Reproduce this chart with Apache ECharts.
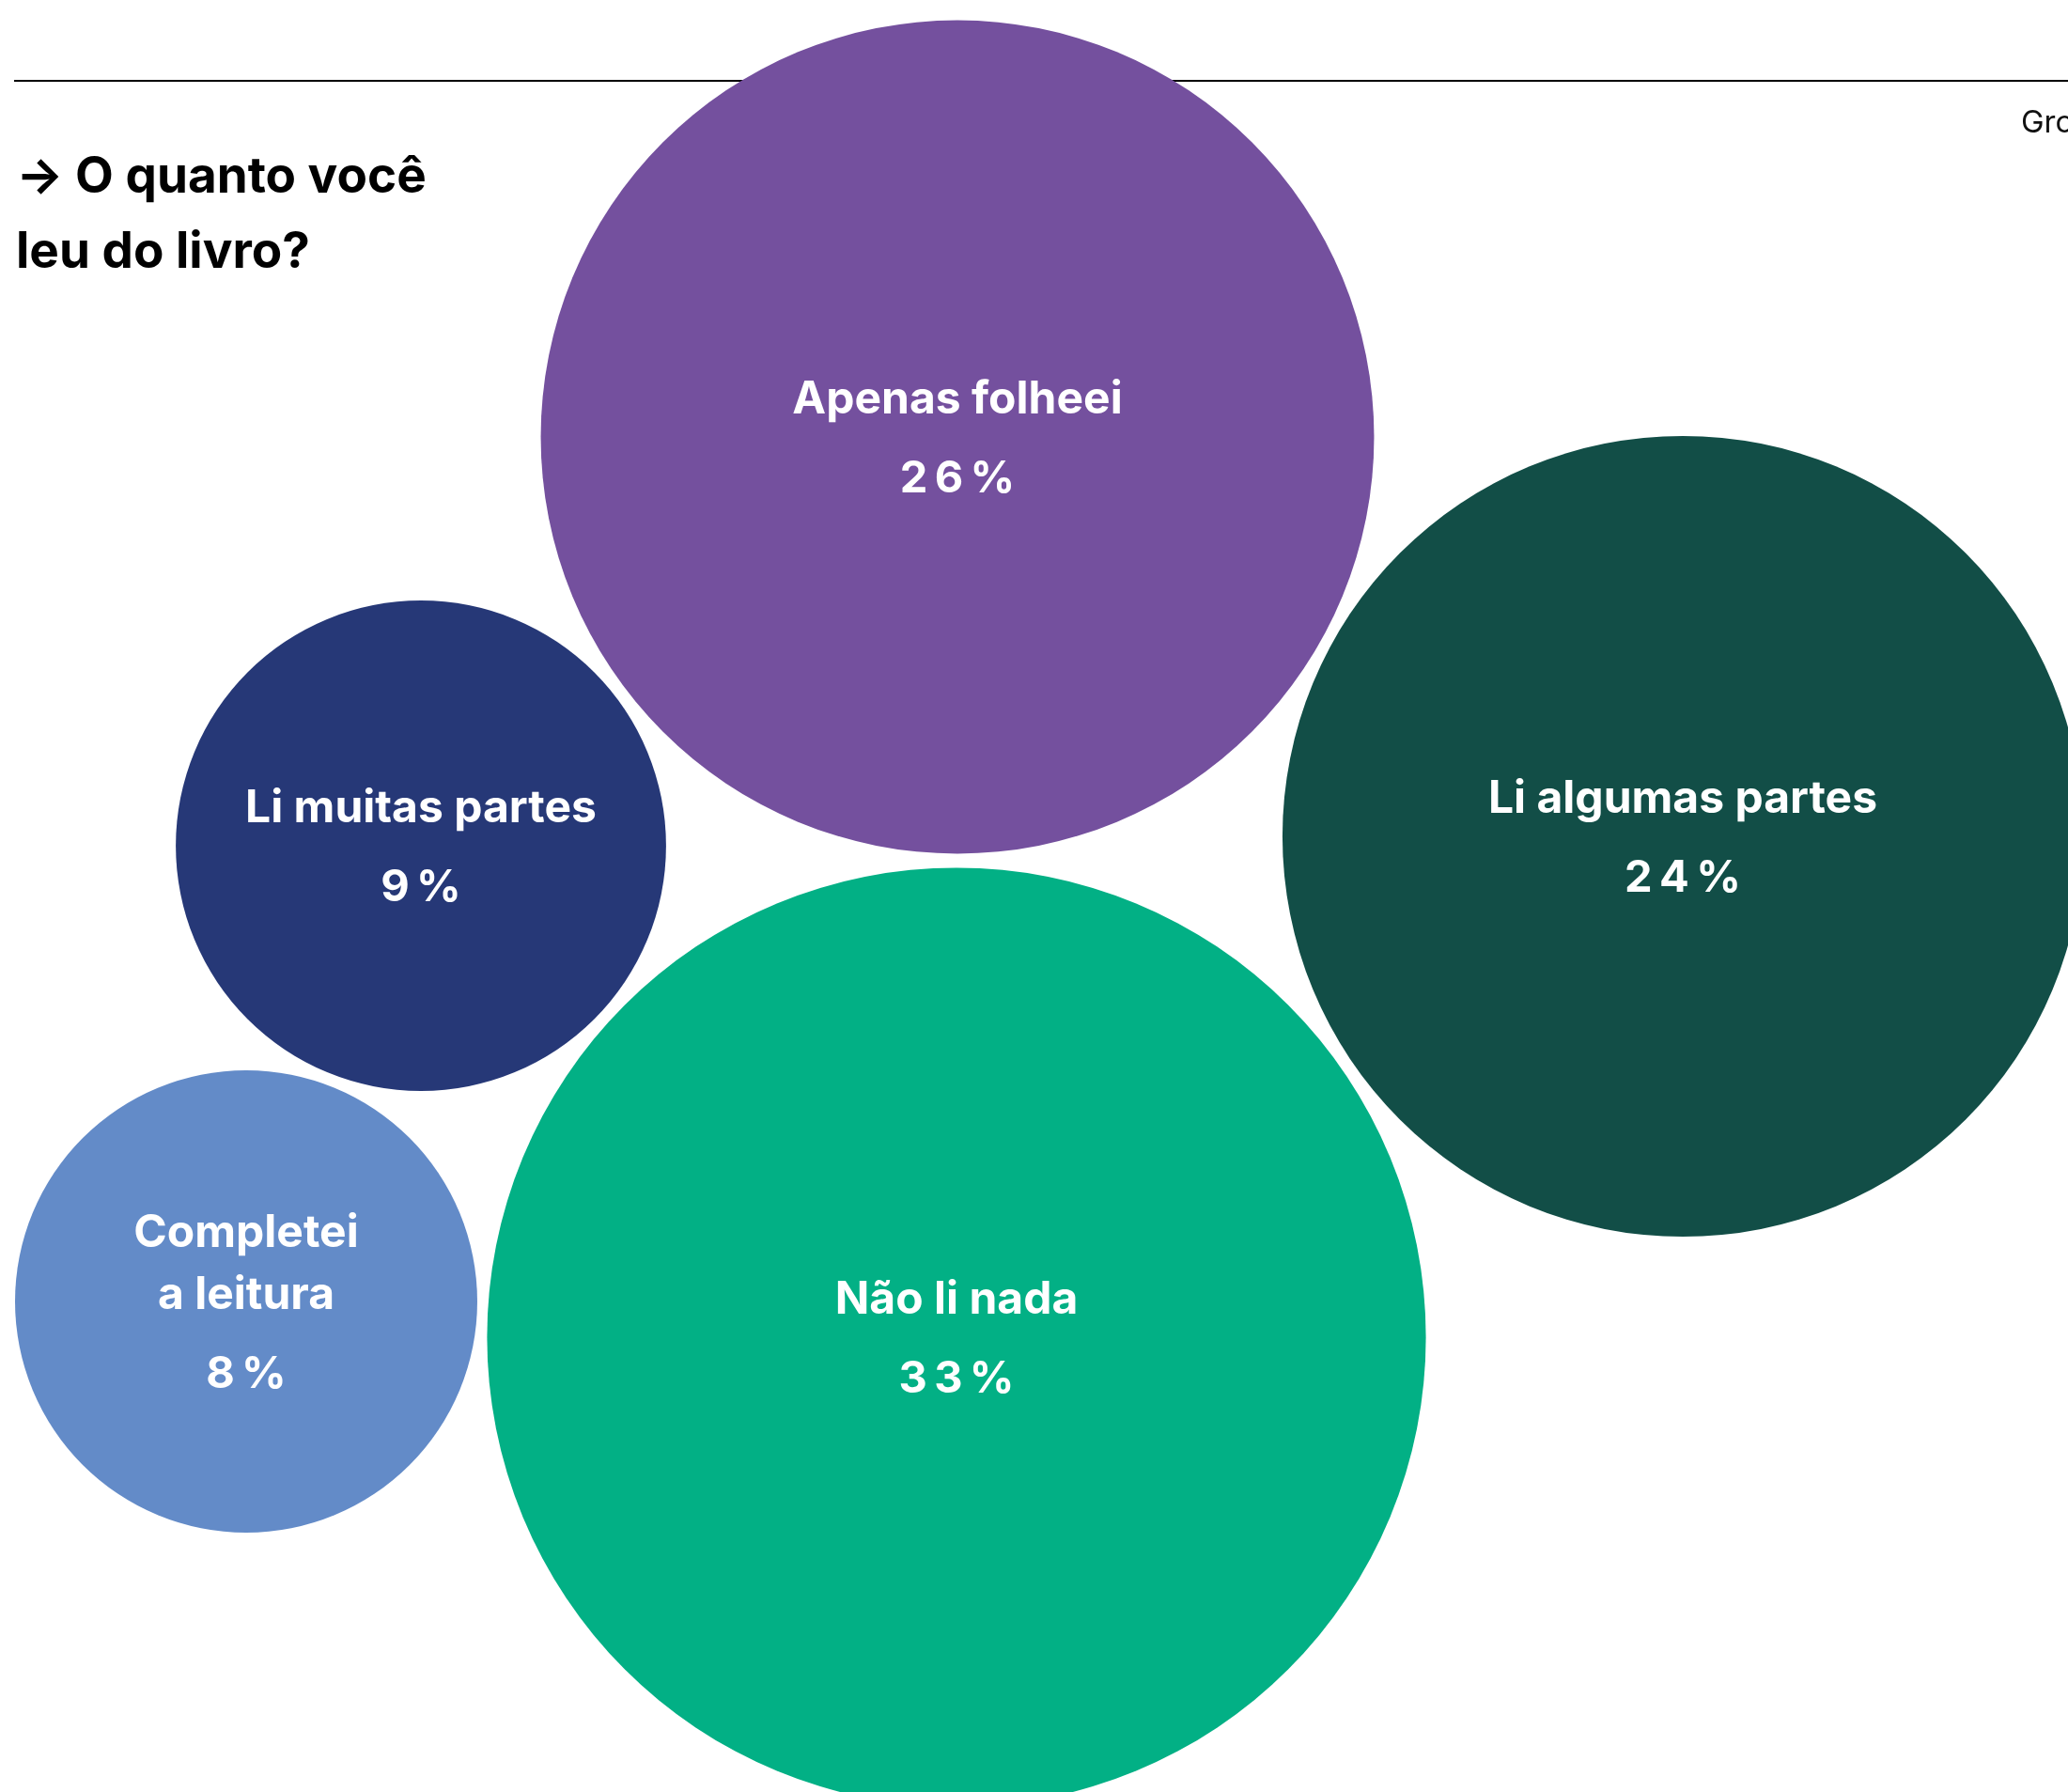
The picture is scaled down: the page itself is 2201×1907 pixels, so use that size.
<!DOCTYPE html>
<html lang="pt-BR">
<head>
<meta charset="utf-8">
<title>O quanto você leu do livro?</title>
<script src="https://cdn.jsdelivr.net/npm/echarts@6/dist/echarts.min.js"></script>
<style>
  html, body { margin: 0; padding: 0; background: #ffffff; }
  #chart { width: 2201px; height: 1907px; }
</style>
</head>
<body>
<div id="chart"></div>
<script>
// Respostas (%) e a disposição das bolhas no plano
const categorias = ['Apenas folheei', 'Li algumas partes', 'Li muitas partes', 'Completei\na leitura', 'Não li nada'];
const percentuais = [26, 24, 9, 8, 33];
const cores = ['#74509e', '#124e47', '#263877', '#638bc8', '#02b085'];
const posX = [1019, 1791, 448, 262, 1018];
const posY = [465, 890, 900, 1385, 1423];

// raio proporcional à raiz do valor (área ∝ percentual)
const RAIO_POR_UNIDADE = 86.97;

const FONTE = 'Inter, "Noto Sans", sans-serif';

const dados = categorias.map((nome, i) => ({
  name: nome,
  value: [posX[i], posY[i], percentuais[i]],
  itemStyle: { color: cores[i], opacity: 1 }
}));

const chart = echarts.init(document.getElementById('chart'), null, { renderer: 'canvas' });

chart.setOption({
  animation: false,
  backgroundColor: '#ffffff',
  title: {
    text: '→ O quanto você\nleu do livro?',
    left: 12,
    top: 144,
    textStyle: {
      fontFamily: FONTE,
      fontSize: 53,
      fontWeight: 700,
      color: '#000000',
      lineHeight: 80
    }
  },
  graphic: [
    {
      type: 'line',
      z: 0,
      shape: { x1: 15, y1: 86, x2: 2201, y2: 86 },
      style: { stroke: '#000000', lineWidth: 2 }
    },
    {
      type: 'text',
      z: 0,
      left: 2151,
      top: 115,
      style: {
        text: 'Gro',
        fontFamily: FONTE,
        fontSize: 33,
        fontWeight: 400,
        fill: '#111111'
      }
    }
  ],
  grid: { left: 0, right: 0, top: 0, bottom: 0 },
  xAxis: { type: 'value', min: 0, max: 2201, show: false },
  yAxis: { type: 'value', min: 0, max: 1907, inverse: true, show: false },
  series: [{
    type: 'scatter',
    clip: false,
    symbol: 'circle',
    symbolSize: (v) => 2 * RAIO_POR_UNIDADE * Math.sqrt(v[2]),
    itemStyle: { opacity: 1 },
    data: dados,
    label: {
      show: true,
      position: 'inside',
      align: 'center',
      verticalAlign: 'middle',
      offset: [0, 3],
      formatter: (p) => {
        const linhas = p.name.split('\n').map((l) => '{n|' + l + '}').join('\n');
        const pct = String(p.value[2]).split('').concat('%').join('\u2009');
        return linhas + '\n{g| }\n{v|' + pct + '}';
      },
      rich: {
        n: {
          fontFamily: FONTE,
          fontSize: 48,
          fontWeight: 700,
          color: '#ffffff',
          opacity: 1,
          lineHeight: 66,
          align: 'center'
        },
        g: { fontSize: 2, lineHeight: 18 },
        v: {
          fontFamily: FONTE,
          fontSize: 47,
          fontWeight: 700,
          color: '#ffffff',
          opacity: 1,
          lineHeight: 66,
          align: 'center'
        }
      }
    },
    emphasis: { disabled: true }
  }]
});
</script>
</body>
</html>
